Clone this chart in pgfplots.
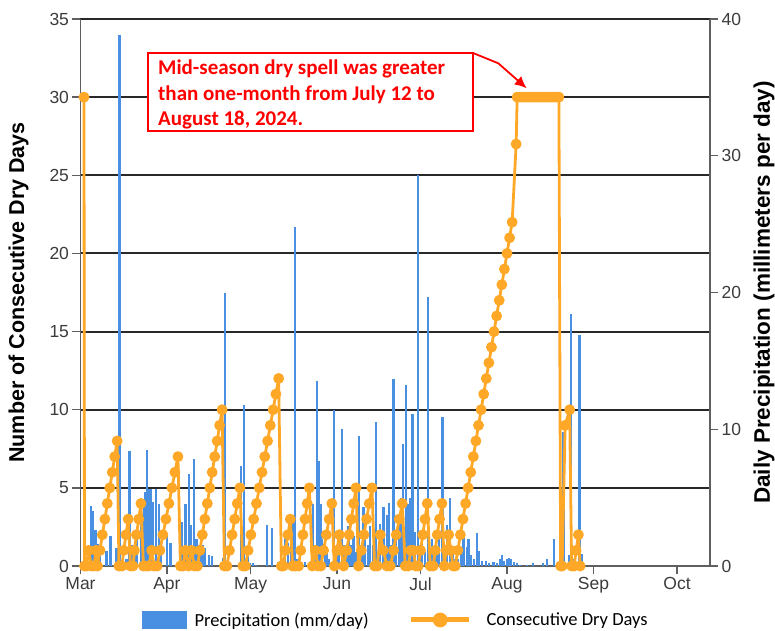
\documentclass[border=0pt]{standalone}
\usepackage{fontspec}
\setmainfont{Liberation Sans}
\newfontfamily\calibri{Carlito}
\usepackage{pgfplots}
\usepackage{pgfplotstable}
\pgfplotsset{compat=1.18}
\usetikzlibrary{arrows.meta}
\definecolor{precip}{RGB}{74,144,226}
\definecolor{cdd}{RGB}{255,168,40}
\definecolor{gridc}{RGB}{40,40,40}
\definecolor{axc}{RGB}{95,95,95}
\definecolor{tickc}{RGB}{60,60,60}

\pgfplotstableread{
day mm
3.83 4.4
4.55 4.0
5.38 2.6
6.09 1.6
6.92 0.7
9.32 1.1
10.75 2.2
12.90 1.3
13.98 38.8
15.52 0.3
16.49 0.5
17.56 8.4
18.53 1.5
19.35 1.0
20.32 2.1
21.75 3.4
22.69 4.8
23.30 5.4
23.91 8.5
24.48 5.6
25.09 5.6
26.06 4.7
27.06 5.6
28.06 4.5
28.85 1.0
31.07 2.3
32.26 1.7
36.20 3.2
37.63 4.5
38.81 6.7
39.68 3.0
40.68 7.8
41.58 2.0
42.65 1.5
43.73 1.5
44.80 1.3
45.98 0.8
47.20 0.7
51.07 0.6
51.79 20.0
57.53 7.3
58.53 11.8
60.03 0.7
60.93 0.2
62.00 0.2
63.08 0.1
66.91 3.0
68.71 2.8
70.86 0.3
73.47 2.1
74.55 1.7
75.44 2.0
76.09 3.2
76.81 24.8
77.77 0.5
78.85 0.3
80.64 0.3
83.26 4.5
84.05 1.0
84.84 13.5
85.48 7.7
86.12 4.5
86.73 2.0
87.63 1.5
88.52 1.0
89.24 0.5
90.79 11.4
92.00 1.4
92.65 2.5
93.80 10.0
94.62 1.5
95.34 1.0
96.16 2.9
97.13 1.5
97.95 2.2
98.92 1.0
100.00 9.5
100.72 1.5
101.54 4.3
102.15 3.1
103.05 1.5
103.94 2.9
104.84 1.5
106.02 10.55
106.81 1.0
107.53 3.1
108.71 4.3
109.93 3.7
110.57 4.6
111.47 1.5
112.29 13.7
113.26 2.0
114.34 3.5
115.05 5.0
115.77 8.9
116.67 13.2
117.56 4.5
118.28 5.0
119.10 11.1
120.07 2.5
121.04 28.6
121.86 1.5
122.58 2.0
123.48 1.0
124.62 19.7
125.45 1.0
126.16 2.0
127.24 1.5
127.96 1.0
128.67 2.0
129.85 10.9
130.82 1.5
131.54 3.0
132.62 5.0
133.51 1.0
134.41 0.5
135.48 0.5
136.56 1.0
137.38 2.1
138.60 1.4
139.17 2.0
140.14 0.8
141.04 0.5
142.19 2.4
142.76 1.1
143.98 0.4
145.52 0.4
146.59 0.2
148.13 0.3
149.46 0.2
150.54 0.5
151.15 0.8
151.97 0.4
152.94 0.5
153.58 0.6
154.48 0.5
155.37 0.3
156.63 0.2
157.71 0.1
160.22 0.1
162.37 0.2
165.95 0.2
167.28 0.5
169.71 1.95
173.22 9.8
175.09 0.8
175.99 18.4
177.06 0.5
178.96 16.9
179.82 0.9
}\precipdata

\pgfplotstableread{
day cdd
1.25 30
1.43 0
2.15 0
2.87 1
3.94 0
4.84 0
5.56 1
6.09 0
6.99 1
7.85 2
8.75 3
9.61 4
10.50 5
11.40 6
12.26 7
13.15 8
13.80 0
14.87 0
15.52 1
16.31 2
17.10 3
17.92 0
18.82 0
19.35 1
20.07 2
20.90 3
21.68 4
22.58 0
23.48 0
24.48 0
25.52 1
26.38 0
27.49 0
28.49 1
29.57 2
30.64 3
31.72 4
32.80 5
33.87 6
34.95 7
35.84 0
36.74 0
37.63 1
38.71 0
39.78 1
40.86 0
41.94 0
42.83 1
43.69 2
44.59 3
45.48 4
46.38 5
47.24 6
48.14 7
49.03 8
49.89 9
50.79 10
51.61 0
52.51 0
53.44 1
54.37 2
55.30 3
56.24 4
57.17 5
58.24 0
59.14 0
60.13 1
61.13 2
62.12 3
63.12 4
64.11 5
65.11 6
66.10 7
67.10 8
68.09 9
69.09 10
70.08 11
71.08 12
72.04 0
72.76 0
73.55 1
74.41 2
75.26 3
76.09 0
77.06 0
78.24 0
78.99 1
79.78 2
80.54 3
81.32 4
82.08 5
83.15 0
84.23 1
85.19 0
86.20 0
87.20 1
88.17 2
89.17 3
90.14 4
91.04 0
92.00 1
92.83 2
93.54 1
94.37 0
95.51 1
96.34 2
97.16 3
97.99 4
98.81 5
99.74 0
100.71 1
101.68 2
102.61 3
103.58 4
104.55 5
105.48 0
106.45 0
107.53 2
108.60 1
109.93 0
111.11 0
112.29 1
113.26 2
114.34 3
115.41 4
116.49 0
117.56 0
118.46 1
119.35 1
120.25 0
121.15 0
121.97 1
122.76 2
123.58 3
124.37 4
125.45 0
126.52 0
127.24 1
127.96 2
128.78 3
129.64 4
130.47 0
131.18 1
132.08 2
132.80 1
133.69 0
134.41 0
135.34 1
136.27 2
137.19 3
138.12 4
139.05 5
139.98 6
140.91 7
141.84 8
142.76 9
143.69 10
144.62 11
145.55 12
146.48 13
147.41 14
148.33 15
149.26 16
150.19 17
151.12 18
152.05 19
152.98 20
153.90 21
154.83 22
156.27 27
156.63 30
157.6 30
158.6 30
159.6 30
160.6 30
161.6 30
162.6 30
163.6 30
164.6 30
165.6 30
166.6 30
167.6 30
168.6 30
169.6 30
170.6 30
171.6 30
172.22 0
172.76 0
173.84 9
175.45 10
176.16 0
177.06 0
177.78 1
178.60 2
179.21 0
}\cdddata

\pgfplotsset{base/.style={scale only axis, width=629.5pt, height=547pt,
  xmin=0, xmax=225.8, at={(0,0)}, anchor=south west,
  /pgf/number format/assume math mode=true,
  tick label style={font=\fontsize{17.5}{21}\selectfont, text=tickc},
  label style={font=\bfseries\fontsize{21.5}{25}\selectfont},
  tick align=outside, major tick length=8pt,
  tick style={axc, line width=1.3pt},
  axis line style={axc, line width=1.6pt}}}

\begin{document}
\begin{tikzpicture}[x=1pt,y=1pt]
\useasboundingbox (-80.5,-64) rectangle (694.5,566);

\begin{axis}[base, ymin=0, ymax=35,
  axis x line*=bottom, axis y line*=left,
  ytick={0,5,...,35},
  xtick={0,31,61,92,122,153,184,214},
  xticklabels={Mar,Apr,May,Jun,Jul,Aug,Sep,Oct},
  ymajorgrids, grid style={gridc, line width=2pt},
  ylabel={Number of Consecutive Dry Days},
  ylabel style={at={(axis description cs:-0.0985,0.5)}, anchor=center}]
\addplot[draw=none] coordinates {(0,0)};
\end{axis}

\begin{axis}[base, ymin=0, ymax=40,
  axis y line*=right, axis x line=none,
  ytick={0,10,...,40},
  ylabel={Daily Precipitation (millimeters per day)},
  ylabel style={at={(axis description cs:1.0858,0.5)}, anchor=center,
    font=\bfseries\fontsize{22.5}{26}\selectfont}]
\addplot[ycomb, precip, line width=2.2pt] table[x=day, y=mm] {\precipdata};
\end{axis}

\begin{axis}[base, ymin=0, ymax=35, hide axis, clip=false,
  legend columns=2,
  legend style={draw=none, fill=none, at={(axis description cs:0.501,-0.0987)}, anchor=center,
    font=\calibri\fontsize{18.5}{22}\selectfont,
    /tikz/every even column/.append style={column sep=38pt}}]
\addlegendimage{legend image code/.code={\fill[precip] (0pt,-8.5pt) rectangle (44pt,8.5pt); \path (50pt,0pt);}}
\addlegendentry{Precipitation (mm/day)}
\addplot[cdd, line width=2.8pt, line join=round, mark=*, mark size=4pt, mark options={solid, fill=cdd, draw=none},
  legend image code/.code={\draw[cdd, line width=5pt] (0pt,0pt) -- (58pt,0pt); \fill[cdd] (29pt,0pt) circle (6pt); \path (72pt,0pt);}]
  table[x=day, y=cdd] {\cdddata};
\addlegendentry{Consecutive Dry Days}
\end{axis}

\draw[red, line width=1.8pt, fill=white] (67.5,435) rectangle (392.5,513);
\node[anchor=north west, inner sep=0pt, align=left, text=red,
  font=\calibri\bfseries\fontsize{21}{25.5}\selectfont] at (77.5,506)
  {Mid-season dry spell was greater\\than one-month from July 12 to\\August 18, 2024.};
\draw[red, line width=1.8pt, -{Latex[length=12pt,width=11pt]}] (392.5,513) -- (417.8,502.7) -- (446.2,477.7);
\end{tikzpicture}
\end{document}
